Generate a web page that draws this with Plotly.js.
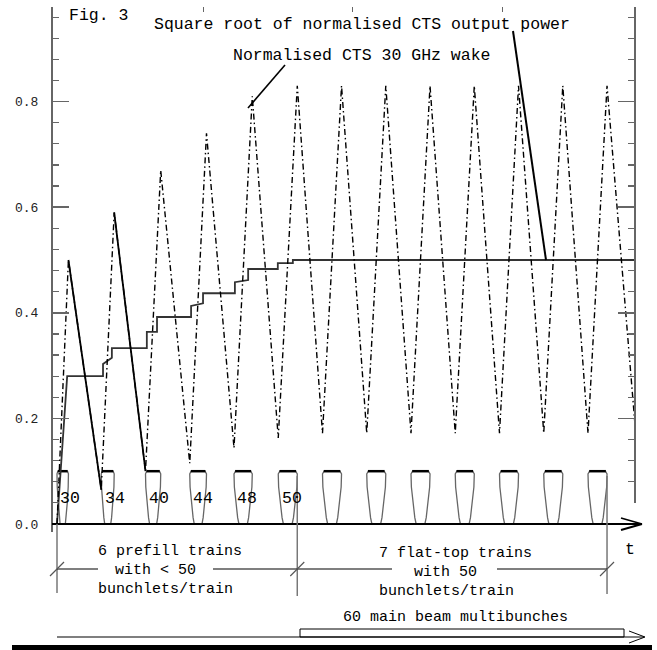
<!DOCTYPE html>
<html><head><meta charset="utf-8">
<script src="https://cdn.plot.ly/plotly-3.0.1.min.js"></script>
<style>html,body{margin:0;padding:0;background:#fff}#chart{width:657px;height:650px}</style>
</head><body><div id="chart"></div>
<script>
// ---------------- data (time in units of the train period) ----------------
const trainStart = [0, 1, 2, 3, 4, 5, 6, 7, 8, 9, 10, 11, 12];
const bunchlets  = [30, 34, 40, 44, 48, 50, 50, 50, 50, 50, 50, 50, 50];
const fullTrainLength = 0.43;   // duration of a 50-bunchlet train
const trainHeight = 0.1;
const prefillLabels = ['30', '34', '40', '44', '48', '50'];

// normalised CTS 30 GHz wake: value at train start (min) and train end (peak)
const wakeMin  = [0, 0.065, 0.10, 0.115, 0.144, 0.163, 0.172, 0.172, 0.172, 0.172, 0.172, 0.172, 0.172];
const wakePeak = [0.50, 0.59, 0.67, 0.74, 0.81, 0.83, 0.83, 0.83, 0.83, 0.83, 0.83, 0.83, 0.83];
const wakeTailT = [13.06];
const wakeTailV = [0.19];

// square root of normalised CTS output power (staircase)
const powT = [0, 0.23, 1.04, 1.04, 1.24, 1.24, 2.03, 2.03, 2.26, 2.26, 3.03, 3.03, 3.30, 3.30, 4.02, 4.02, 4.32, 4.32, 4.99, 4.99, 5.33, 5.33, 13.06];
const powV = [0, 0.28, 0.28, 0.303, 0.315, 0.333, 0.333, 0.364, 0.364, 0.392, 0.392, 0.413, 0.418, 0.437, 0.437, 0.458, 0.462, 0.483, 0.483, 0.494, 0.494, 0.50, 0.50];

const yTickVals = [0, 0.2, 0.4, 0.6, 0.8];
const yTickText = ['0.0', '0.2', '0.4', '0.6', '0.8'];
const topTickT = [3.30, 6.67, 10.06];

// ---------------- layout helpers (pixel <-> axes) ----------------
const W = 657, H = 650, PX0 = 57, PER = 44.25;
const tx = px => (px - PX0) / PER;
const vy = py => (524 - py) / 528;
const pp = py => (H - py) / H;
const xp = px => px / W;

const trainEnd = trainStart.map((s, i) => s + fullTrainLength * bunchlets[i] / 50);

// bottle-shaped train outline template (fraction of width, fraction of height)
const U = [0.08, 0, 0.02, 0.10, 0.20, 0.27, 0.73, 0.80, 0.90, 0.98, 1, 0.92];
const V = [1, 0.95, 0.7, 0.4, 0.12, 0, 0, 0.12, 0.4, 0.7, 0.95, 1];
const outX = [], outY = [], topX = [], topY = [];
trainStart.forEach((s, i) => {
  const w = trainEnd[i] - s;
  U.forEach((u, k) => { outX.push(s + u * w); outY.push(V[k] * trainHeight); });
  outX.push(null); outY.push(null);
  topX.push(s + 0.06 * w, s + 0.94 * w, null);
  topY.push(trainHeight, trainHeight, null);
});

const wakeX = [], wakeY = [];
trainStart.forEach((s, i) => { wakeX.push(s, trainEnd[i]); wakeY.push(wakeMin[i], wakePeak[i]); });
wakeX.push(...wakeTailT); wakeY.push(...wakeTailV);

const solidX = [], solidY = [];
[0, 1].forEach(i => { solidX.push(trainEnd[i], trainStart[i + 1], null); solidY.push(wakePeak[i], wakeMin[i + 1], null); });

const traces = [
  {x: outX, y: outY, mode: 'lines', line: {color: '#666', width: 1.3}, hoverinfo: 'skip', showlegend: false},
  {x: topX, y: topY, mode: 'lines', line: {color: '#000', width: 2.5}, hoverinfo: 'skip', showlegend: false},
  {x: powT, y: powV, mode: 'lines', line: {color: '#333', width: 1.8}, hoverinfo: 'skip', showlegend: false},
  {x: wakeX, y: wakeY, mode: 'lines', line: {color: '#000', width: 1.4, dash: '6px,3px,1.5px,3px'}, hoverinfo: 'skip', showlegend: false},
  {x: solidX, y: solidY, mode: 'lines', line: {color: '#000', width: 1.8}, hoverinfo: 'skip', showlegend: false},
  {x: [], y: [], yaxis: 'y2', mode: 'lines', hoverinfo: 'skip', showlegend: false}
];

const FONT = "'Liberation Mono', 'Courier New', monospace";
const axCol = '#666';
const tf = {family: FONT, size: 16.5, color: '#000'};
const tfs = {family: FONT, size: 15, color: '#000'};

const ann = [];
function txt(text, px, py, font) { ann.push({text, x: xp(px), y: pp(py), xref: 'paper', yref: 'paper', showarrow: false, font: font || tf, xanchor: 'center', yanchor: 'middle', borderpad: 0}); }
txt('Fig. 3', 98, 15);
txt('Square root of normalised CTS output power', 362, 24);
txt('Normalised CTS 30 GHz wake', 361, 56);
txt('6 prefill trains', 170, 551, tfs);
txt('with &lt; 50', 155, 570, tfs);
txt('bunchlets/train', 165, 589, tfs);
txt('7 flat-top trains', 455, 553, tfs);
txt('with 50', 445, 572, tfs);
txt('bunchlets/train', 446, 591, tfs);
txt('t', 630, 549);
txt('60 main beam multibunches', 455, 617, tfs);
prefillLabels.forEach((l, i) => ann.push({text: l, x: trainStart[i] + 0.3, y: 0.049, xref: 'x', yref: 'y', showarrow: false, font: tf}));

const shapes = [];
function segP(px0, py0, px1, py1, color, width) { // x in data (via px), y in paper
  shapes.push({type: 'line', xref: 'x', yref: 'paper', x0: tx(px0), x1: tx(px1), y0: pp(py0), y1: pp(py1), line: {color, width}});
}
// baseline with arrow
shapes.push({type: 'line', xref: 'x', yref: 'y', x0: tx(52), x1: tx(641), y0: 0, y1: 0, line: {color: '#000', width: 2}});
shapes.push({type: 'line', xref: 'x', yref: 'y', x0: tx(621), x1: tx(642), y0: vy(518), y1: 0, line: {color: '#000', width: 1.6}});
shapes.push({type: 'line', xref: 'x', yref: 'y', x0: tx(621), x1: tx(642), y0: vy(530), y1: 0, line: {color: '#000', width: 2}});
// pointer lines
shapes.push({type: 'line', xref: 'x', yref: 'y', x0: tx(285), x1: tx(248), y0: vy(65), y1: vy(108), line: {color: '#000', width: 1.6}});
shapes.push({type: 'line', xref: 'x', yref: 'y', x0: tx(513), x1: tx(546), y0: vy(31), y1: 0.5, line: {color: '#000', width: 2}});
// dimension lines
const dimCol = '#555';
const xs0 = trainStart[0], xs1 = trainEnd[5], xs2 = trainEnd[12];
shapes.push({type: 'line', xref: 'x', yref: 'paper', x0: xs0, x1: xs0, y0: pp(524), y1: pp(593), line: {color: '#777', width: 1.5}});
shapes.push({type: 'line', xref: 'x', yref: 'paper', x0: xs1, x1: xs1, y0: pp(476), y1: pp(596), line: {color: '#777', width: 1.5}});
shapes.push({type: 'line', xref: 'x', yref: 'paper', x0: xs2, x1: xs2, y0: pp(476), y1: pp(594), line: {color: '#777', width: 1.5}});
[[xs0, tx(98)], [tx(213), xs1], [xs1, tx(392)], [tx(497), xs2]].forEach(([a, b]) =>
  shapes.push({type: 'line', xref: 'x', yref: 'paper', x0: a, x1: b, y0: pp(569), y1: pp(569), line: {color: '#000', width: 1.2}}));
[xs0, xs1, xs2].forEach(x => shapes.push({type: 'line', xref: 'x', yref: 'paper', x0: x - 7 / PER, x1: x + 7 / PER, y0: pp(576), y1: pp(562), line: {color: dimCol, width: 1.2}}));
// main beam arrow + box
segP(57, 637, 644, 637, '#000', 1.2);
segP(629, 631, 645, 637, '#000', 1);
segP(629, 643, 645, 637, '#000', 1);
shapes.push({type: 'rect', xref: 'x', yref: 'paper', x0: tx(300), x1: tx(624), y0: pp(637), y1: pp(629), line: {color: '#000', width: 1}});
// bottom black bar
shapes.push({type: 'rect', xref: 'paper', yref: 'paper', x0: xp(12), x1: xp(652), y0: 0, y1: pp(645), line: {width: 0}, fillcolor: '#000'});

const yCommon = {
  tickmode: 'array', tickvals: yTickVals, ticktext: yTickText,
  ticks: 'inside', ticklen: 16, tickwidth: 1.5, tickcolor: axCol,
  minor: {tickmode: 'linear', tick0: 0, dtick: 0.04, ticks: 'inside', ticklen: 6, tickwidth: 1.2, tickcolor: axCol, showgrid: false},
  showline: true, linecolor: axCol, linewidth: 2, showgrid: false, zeroline: false, fixedrange: true
};

const layout = {
  width: W, height: H, margin: {l: 0, r: 0, t: 0, b: 0},
  paper_bgcolor: '#fff', plot_bgcolor: 'rgba(0,0,0,0)', showlegend: false,
  xaxis: {domain: [0, 1], range: [tx(0), tx(W)], anchor: 'y', side: 'top', showline: false, showgrid: false, zeroline: false,
          tickmode: 'array', tickvals: topTickT, ticks: 'inside', ticklen: 5, tickwidth: 1, tickcolor: axCol, showticklabels: false, fixedrange: true},
  yaxis: Object.assign({}, yCommon, {domain: [pp(532), pp(7)], range: [vy(532), vy(7)], anchor: 'free', position: xp(52), side: 'left',
          showticklabels: true, tickfont: {family: FONT, size: 13, color: '#222'}, ticklabelstandoff: 10}),
  yaxis2: Object.assign({}, yCommon, {domain: [pp(503), pp(7)], range: [vy(503), vy(7)], anchor: 'free', position: xp(635), side: 'right',
          showticklabels: false}),
  annotations: ann, shapes: shapes
};

Plotly.newPlot('chart', traces, layout, {staticPlot: true, displayModeBar: false});
</script></body></html>
